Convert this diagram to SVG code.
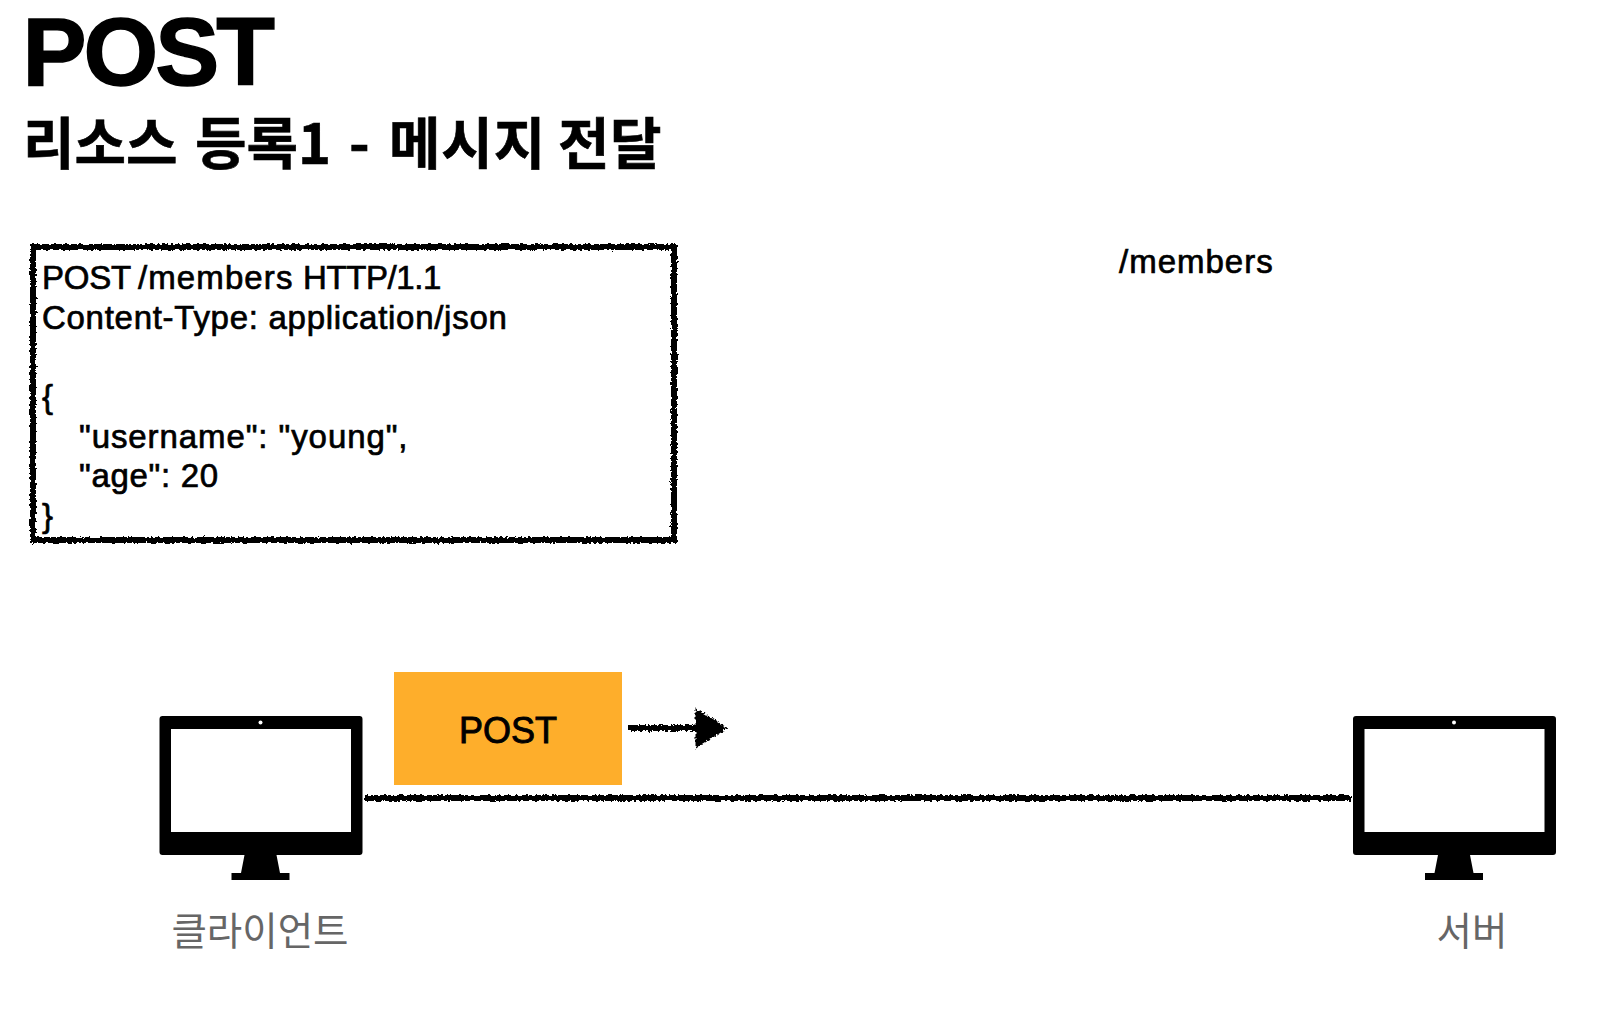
<svg xmlns="http://www.w3.org/2000/svg" xmlns:xlink="http://www.w3.org/1999/xlink" width="1610" height="1024" viewBox="0 0 1610 1024">
<style>
text{font-family:"Liberation Sans","Noto Sans CJK KR",sans-serif;fill:#000}
.kr{font-family:"Noto Sans CJK KR",sans-serif}
.body{font-size:33px;stroke:#000;stroke-width:.7px}
.label{font-size:38.500px;fill:#666}
.rough{fill:none;stroke:#000;stroke-width:6;filter:url(#sketch)}
</style>
<defs>
<filter id="sketch" x="-5%" y="-5%" width="110%" height="110%" filterUnits="userSpaceOnUse" primitiveUnits="userSpaceOnUse">
<feTurbulence type="fractalNoise" baseFrequency="0.35" numOctaves="2" seed="4" result="n"/>
<feDisplacementMap in="SourceGraphic" in2="n" scale="5" xChannelSelector="R" yChannelSelector="G"/>
</filter>
<g id="monitor">
<path fill-rule="evenodd" fill="#000" d="M3 0H200a3 3 0 0 1 3 3V136a3 3 0 0 1-3 3H3a3 3 0 0 1-3-3V3a3 3 0 0 1 3-3ZM11.500 13V116H191.500V13Z"/>
<path fill="#000" d="M85 139H117L120.500 157H130V164H72V157H81.500Z"/>
<circle cx="101" cy="6.500" r="2" fill="#fff"/>
</g>
</defs>
<rect width="1610" height="1024" fill="#fff"/>
<g id="title"><text x="22.500" y="85" font-size="96" font-weight="700" letter-spacing="-3" stroke="#000" stroke-width="1.500">POST</text></g>
<g id="subtitle"><text class="kr" y="164" font-size="56" font-weight="700" stroke="#000" stroke-width=".6"><tspan x="23">리소스 </tspan><tspan x="195">등록1 </tspan><tspan x="349">- </tspan><tspan x="389" letter-spacing=".8">메시지 </tspan><tspan x="558" letter-spacing=".6">전달</tspan></text></g>
<g id="request-box">
<rect class="rough" x="33" y="247" width="641" height="293"/>
<text class="body"><tspan x="42" y="289" letter-spacing="-.2">POST</tspan><tspan x="138" y="289" letter-spacing="1.100">/members</tspan><tspan x="303" y="289" letter-spacing="-.4">HTTP/1.1</tspan><tspan x="42" y="329" letter-spacing=".72">Content-Type: application/json</tspan><tspan x="42" y="408">{</tspan><tspan x="79" y="448" letter-spacing=".92">"username": "young",</tspan><tspan x="79" y="487" letter-spacing=".7">"age": 20</tspan><tspan x="42" y="527">}</tspan></text>
</g>
<g id="path-label"><text class="body" x="1119" y="273" letter-spacing="1">/members</text></g>
<g id="post-badge"><rect x="394" y="672" width="228" height="113" fill="#feae2b"/><text x="508" y="743" font-size="36" text-anchor="middle" stroke="#000" stroke-width=".9">POST</text></g>
<g id="client"><use xlink:href="#monitor" href="#monitor" x="159.500" y="716"/><text class="kr label" x="260" y="945" text-anchor="middle">클라이언트</text></g>
<g id="server"><use xlink:href="#monitor" href="#monitor" x="1353" y="716"/><text class="kr label" x="1472" y="945" text-anchor="middle">서버</text></g>
<g id="connectors">
<line class="rough" x1="364" y1="798" x2="1351" y2="798"/>
<line class="rough" x1="628" y1="728" x2="696" y2="728"/>
<path d="M697 711L725 728L697 746Z" fill="#000" stroke="#000" stroke-width="3" style="filter:url(#sketch)"/>
</g>
</svg>
